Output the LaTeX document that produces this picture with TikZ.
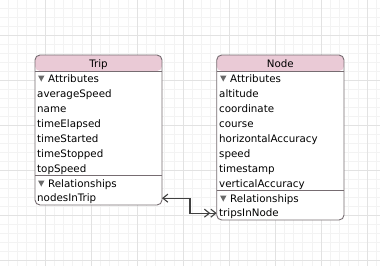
\documentclass[tikz,border=0pt]{standalone}
\usepackage{fontspec}
\setmainfont{DejaVu Sans}
\usetikzlibrary{arrows.meta}
\definecolor{hdr}{RGB}{234,202,214}
\definecolor{edgec}{RGB}{118,108,113}
\definecolor{gmaj}{RGB}{226,226,226}
\definecolor{gmin}{RGB}{243,243,243}
\definecolor{tric}{RGB}{105,105,105}
\definecolor{conn}{RGB}{65,65,65}
\begin{document}
\begin{tikzpicture}[x=1pt,y=-1pt,
  entity/.style={draw=edgec, line width=0.9pt, fill=white, rounded corners=5pt,
    inner sep=0pt, outer sep=0pt, anchor=north west,
    path picture={\fill[hdr] (path picture bounding box.north west) rectangle ([yshift=-16pt]path picture bounding box.north east);}},
  ttl/.style={anchor=base, font=\fontsize{10.3}{12}\selectfont, inner sep=0pt},
  attr/.style={anchor=base west, font=\fontsize{10.3}{12}\selectfont, inner sep=0pt},
  sep/.style={draw=edgec, line width=0.8pt},
  tri/.style={fill=tric},
  rel/.style={draw=conn, line width=1.1pt,
    {Straight Barb[length=5pt,width=8pt]}-{Straight Barb[length=5pt,width=8pt] Straight Barb[length=5pt,width=8pt]}}
]
\useasboundingbox (0,0) rectangle (380,266);
\fill[white] (0,0) rectangle (380,266);
% grid
\foreach \i in {0,...,41} {\draw[gmin, line width=0.6pt] ({-1+9.2*\i},0) -- ++(0,266);}
\foreach \i in {0,...,30} {\draw[gmin, line width=0.6pt] (0,{-1+9*\i}) -- ++(380,0);}
\foreach \i in {0,...,7} {\draw[gmaj, line width=0.6pt] ({45+46*\i},0) -- ++(0,266);}
\foreach \i in {0,...,5} {\draw[gmaj, line width=0.6pt] (0,{35+45*\i}) -- ++(380,0);}

% Trip entity
\node[entity, minimum width=127pt, minimum height=150pt] (trip) at (35,55) {};
\draw[sep] ([yshift=-16pt]trip.north west) -- ([yshift=-16pt]trip.north east);
\node[ttl] (tript) at (98.5,67) {Trip};
\fill[tri] (38,75.5) -- (44.5,75.5) -- (41.25,81.5) -- cycle;
\node[attr] (tripattr) at (48,82.5) {Attributes};
\node[attr] (t1) at (37,97) {averageSpeed};
\node[attr] (t2) at (37,112) {name};
\node[attr] (t3) at (37,127) {timeElapsed};
\node[attr] (t4) at (37,142) {timeStarted};
\node[attr] (t5) at (37,157) {timeStopped};
\node[attr] (t6) at (37,172) {topSpeed};
\draw[sep] (35,175.5) -- (162,175.5);
\fill[tri] (38,180.5) -- (44.5,180.5) -- (41.25,186.5) -- cycle;
\node[attr] (triprel) at (48,187) {Relationships};
\node[attr] (nit) at (37,201) {nodesInTrip};

% Node entity
\node[entity, minimum width=127.3pt, minimum height=165pt] (node) at (216.7,55) {};
\draw[sep] ([yshift=-16pt]node.north west) -- ([yshift=-16pt]node.north east);
\node[ttl] (nodet) at (280.3,67) {Node};
\fill[tri] (220,75.5) -- (226.5,75.5) -- (223.25,81.5) -- cycle;
\node[attr] (nodeattr) at (230,82.5) {Attributes};
\node[attr] (n1) at (219,97) {altitude};
\node[attr] (n2) at (219,112) {coordinate};
\node[attr] (n3) at (219,127) {course};
\node[attr] (n4) at (219,142) {horizontalAccuracy};
\node[attr] (n5) at (219,157) {speed};
\node[attr] (n6) at (219,172) {timestamp};
\node[attr] (n7) at (219,187) {verticalAccuracy};
\draw[sep] (216.7,190.5) -- (344,190.5);
\fill[tri] (220,195.5) -- (226.5,195.5) -- (223.25,201.5) -- cycle;
\node[attr] (noderel) at (230,202) {Relationships};
\node[attr] (tin) at (219,216) {tripsInNode};

% relationship connector
\draw[rel] (trip.east |- nit) -- ++(28,0) |- (node.west |- tin);
\end{tikzpicture}
\end{document}
